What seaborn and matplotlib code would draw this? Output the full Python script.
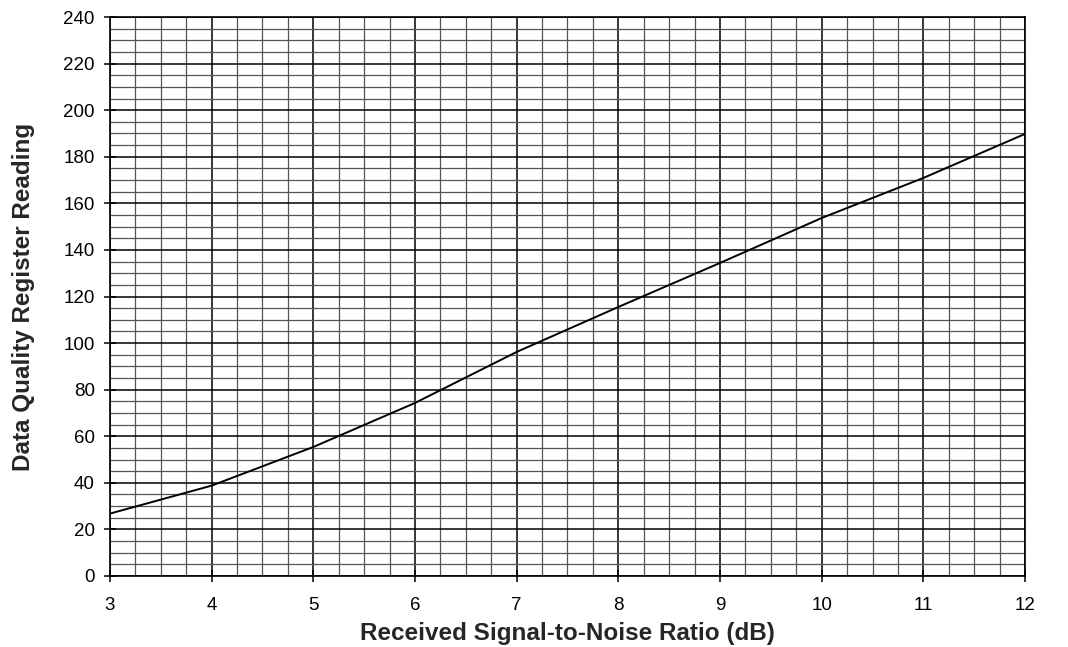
import numpy as np
import pandas as pd
import matplotlib
matplotlib.use("Agg")
import matplotlib.pyplot as plt
from matplotlib.ticker import MultipleLocator
import seaborn as sns

snr_db = [3, 4, 5, 6, 7, 8, 9, 10, 11, 12]
dq_reading = [26.8, 38.8, 55.4, 74.3, 96.2, 115.5, 134.4, 153.7, 170.9, 189.8]

sns.set_style("white")
plt.rcParams["font.family"] = ["Liberation Sans", "DejaVu Sans"]

df = pd.DataFrame({"snr": snr_db, "dq": dq_reading})

fig = plt.figure(figsize=(10.68, 6.47), dpi=100)
ax = fig.add_axes([110 / 1068, 1 - 576 / 647, (1025 - 110) / 1068, (576 - 17) / 647])

sns.lineplot(data=df, x="snr", y="dq", color="black", linewidth=1.4, ax=ax)

ax.set_xlim(3, 12)
ax.set_ylim(0, 240)
ax.xaxis.set_major_locator(MultipleLocator(1))
ax.xaxis.set_minor_locator(MultipleLocator(0.25))
ax.yaxis.set_major_locator(MultipleLocator(20))
ax.yaxis.set_minor_locator(MultipleLocator(5))
ax.grid(which="major", color="black", linewidth=1.1)
ax.grid(which="minor", color="#555555", linewidth=0.9)
ax.set_axisbelow(True)
for s in ax.spines.values():
    s.set_color("black")
    s.set_linewidth(1.2)
ax.tick_params(which="major", direction="inout", length=8, width=1.1,
               labelsize=13.5, colors="black", bottom=True, left=True)
ax.tick_params(axis="x", which="major", pad=11)
ax.tick_params(axis="y", which="major", pad=7)
ax.tick_params(which="minor", length=0)

ax.set_xlabel("Received Signal-to-Noise Ratio (dB)", fontsize=17.5, fontweight="bold")
ax.set_ylabel("Data Quality Register Reading", fontsize=17.5, fontweight="bold")
ax.xaxis.set_label_coords(0.5, -0.082)
ax.yaxis.set_label_coords(-0.082, 0.5)

fig.savefig("out.png", dpi=100)
